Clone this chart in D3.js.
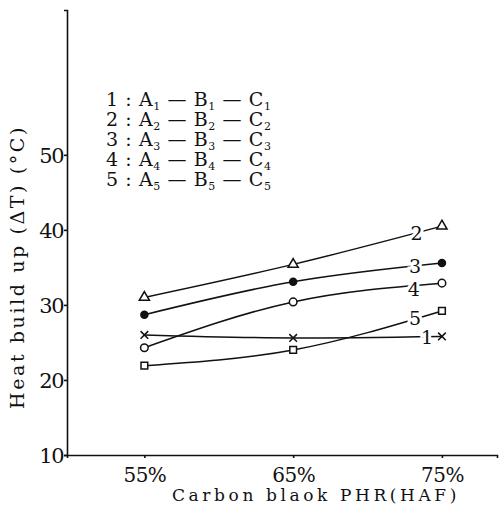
<!DOCTYPE html>
<html>
<head>
<meta charset="utf-8">
<script src="https://cdn.jsdelivr.net/npm/d3@7"></script>
<style>
  html, body { margin: 0; padding: 0; background: #fff; }
  svg { display: block; }
  svg text { font-family: "DejaVu Serif", serif; fill: #111; }
</style>
</head>
<body>
<svg id="chart" width="501" height="512"></svg>
<script>
// ---- data ----
const categories = [55, 65, 75];           // Carbon black PHR (%)
const xTickLabels = ["55%", "65%", "75%"];
const yTicks = [10, 20, 30, 40, 50];
const seriesIds = ["1", "2", "3", "4", "5"];
const series1 = [26.0, 25.6, 25.8];   // x marker
const series2 = [31.0, 35.4, 40.5];   // open triangle
const series3 = [28.7, 33.1, 35.6];   // filled circle
const series4 = [24.3, 30.4, 32.9];   // open circle
const series5 = [21.9, 24.0, 29.2];   // open square
const legendRows = [
  ["1", "1", "1", "1"],
  ["2", "2", "2", "2"],
  ["3", "3", "3", "3"],
  ["4", "4", "4", "4"],
  ["5", "5", "5", "5"]
];
const xTitle = "Carbon blaok PHR(HAF)";
const yTitle = "Heat build up (ΔT) (°C)";

// ---- layout ----
const FONT = "DejaVu Serif";
const svg = d3.select("#chart");
const x = d3.scaleLinear().domain([49.8, 78.7]).range([67, 497]);
const y = d3.scaleLinear().domain([10, 69.3]).range([455, 10]);

// axes
const yAxis = d3.axisLeft(y).tickValues(yTicks).tickSize(3).tickFormat(d3.format("d"));
const gy = svg.append("g").attr("transform", `translate(${x.range()[0]},0)`).call(yAxis);
gy.attr("font-family", FONT);
gy.select(".domain").attr("stroke", "#111").attr("stroke-width", 1.6);
gy.selectAll(".tick line").attr("stroke", "#111").attr("stroke-width", 1.6);
gy.selectAll(".tick text")
  .attr("font-size", 21).attr("x", -4).attr("dy", "0.35em")
  .attr("letter-spacing", -1.5);

const xAxis = d3.axisBottom(x).tickValues(categories).tickSize(3)
  .tickFormat((d, i) => xTickLabels[i]);
const gx = svg.append("g").attr("transform", `translate(0,${y.range()[0]})`).call(xAxis);
gx.attr("font-family", FONT);
gx.select(".domain").attr("stroke", "#111").attr("stroke-width", 1.6);
gx.selectAll(".tick text").attr("font-size", 20).attr("y", 27).attr("dy", 0)
  .attr("letter-spacing", -0.5);
gx.selectAll(".tick line").attr("stroke", "#111").attr("stroke-width", 1.6);

// titles
svg.append("text").attr("x", 316).attr("y", 501).attr("text-anchor", "middle")
  .attr("font-size", 17).attr("letter-spacing", 3.6).text(xTitle);
svg.append("text").attr("transform", "translate(24,267) rotate(-90)")
  .attr("text-anchor", "middle").attr("font-size", 19).attr("letter-spacing", 2.6).text(yTitle);

// lines
const allSeries = [series1, series2, series3, series4, series5];
const line = d3.line()
  .x((d, i) => x(categories[i]))
  .y(d => y(d))
  .curve(d3.curveMonotoneX);
const gl = svg.append("g");
allSeries.forEach(s => {
  gl.append("path").attr("d", line(s)).attr("fill", "none")
    .attr("stroke", "#111").attr("stroke-width", 1.5);
});

// series number labels placed on last segment with white halo (gap effect)
const labelT = [0.90, 0.83, 0.82, 0.81, 0.82];
const labelDy = [8, 7, 7, 9, 7];
allSeries.forEach((s, k) => {
  const t = labelT[k];
  const xv = categories[1] + (categories[2] - categories[1]) * t;
  const yv = s[1] + (s[2] - s[1]) * (k === 0 ? 1 : t);
  svg.append("text").attr("x", x(xv)).attr("y", y(yv) + labelDy[k])
    .attr("text-anchor", "middle").attr("font-size", 19)
    .attr("stroke", "#fff").attr("stroke-width", 6).attr("paint-order", "stroke")
    .text(seriesIds[k]);
});

// markers
const gm = svg.append("g").attr("stroke", "#111").attr("stroke-width", 1.5);
const sym = (type, size) => d3.symbol().type(type).size(size)();
series1.forEach((v, i) => {
  gm.append("path").attr("transform", `translate(${x(categories[i])},${y(v)})`)
    .attr("d", sym(d3.symbolX, 40)).attr("fill", "none");
});
series2.forEach((v, i) => {
  gm.append("path").attr("transform", `translate(${x(categories[i])},${y(v)})`)
    .attr("d", sym(d3.symbolTriangle, 45)).attr("fill", "#fff");
});
series3.forEach((v, i) => {
  gm.append("circle").attr("cx", x(categories[i])).attr("cy", y(v)).attr("r", 3.5).attr("fill", "#111");
});
series4.forEach((v, i) => {
  gm.append("circle").attr("cx", x(categories[i])).attr("cy", y(v)).attr("r", 3.8).attr("fill", "#fff");
});
series5.forEach((v, i) => {
  gm.append("path").attr("transform", `translate(${x(categories[i])},${y(v)})`)
    .attr("d", sym(d3.symbolSquare, 45)).attr("fill", "#fff");
});

// legend
const lg = svg.append("g").attr("font-size", 19).attr("letter-spacing", 0.6);
legendRows.forEach((r, k) => {
  const t = lg.append("text").attr("x", 106).attr("y", 106 + k * 20);
  t.append("tspan").text(r[0] + " : A");
  t.append("tspan").attr("font-size", 11).attr("dy", 4).text(r[1]);
  t.append("tspan").attr("dy", -4).text(" — B");
  t.append("tspan").attr("font-size", 11).attr("dy", 4).text(r[2]);
  t.append("tspan").attr("dy", -4).text(" — C");
  t.append("tspan").attr("font-size", 11).attr("dy", 4).text(r[3]);
});
</script>
</body>
</html>
